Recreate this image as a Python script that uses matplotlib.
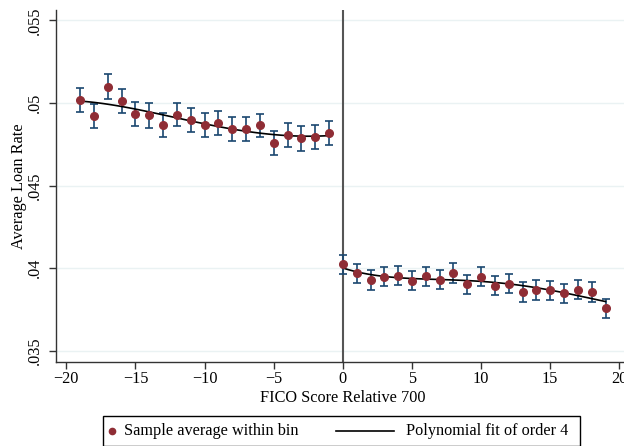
import numpy as np
import matplotlib
matplotlib.use("Agg")
import matplotlib.pyplot as plt
from matplotlib.patches import Rectangle
from matplotlib.lines import Line2D

plt.rcParams['font.family'] = ['Liberation Serif', 'DejaVu Serif']

# bins left and right of the 700 cutoff
x_left = [-19, -18, -17, -16, -15, -14, -13, -12, -11, -10, -9, -8, -7, -6, -5, -4, -3, -2, -1]
y_left = [0.05017, 0.04922, 0.05099, 0.05012, 0.04934, 0.04924, 0.04867, 0.04930, 0.04896, 0.04867,
          0.04879, 0.04843, 0.04840, 0.04864, 0.04757, 0.04805, 0.04785, 0.04793, 0.04817]
err_left = [0.00072, 0.00072, 0.00078, 0.00072, 0.00074, 0.00073, 0.00074, 0.00072, 0.00072, 0.00073,
            0.00072, 0.00072, 0.00072, 0.00072, 0.00074, 0.00072, 0.00073, 0.00072, 0.00072]

x_right = [0, 1, 2, 3, 4, 5, 6, 7, 8, 9, 10, 11, 12, 13, 14, 15, 16, 17, 18, 19]
y_right = [0.04024, 0.03969, 0.03929, 0.03949, 0.03955, 0.03925, 0.03951, 0.03931, 0.03971, 0.03903,
           0.03949, 0.03895, 0.03907, 0.03856, 0.03869, 0.03867, 0.03849, 0.03870, 0.03856, 0.03758]
err_right = [0.00058, 0.00058, 0.00058, 0.00058, 0.00058, 0.00058, 0.00058, 0.00058, 0.00060, 0.00058,
             0.00058, 0.00058, 0.00058, 0.00058, 0.00058, 0.00058, 0.00058, 0.00058, 0.00058, 0.00058]

yticks = [0.035, 0.04, 0.045, 0.05, 0.055]
ytick_labels = ['.035', '.04', '.045', '.05', '.055']
xticks = [-20, -15, -10, -5, 0, 5, 10, 15, 20]
legend_labels = ['Sample average within bin', 'Polynomial fit of order 4']

red = '#8f2d35'
navy = '#1a476f'
fs = 11.7
W, H = 624, 446

fig = plt.figure(figsize=(W / 100, H / 100), dpi=100)
ax = fig.add_axes([55.7 / W, 1 - 361.7 / H, (630 - 55.7) / W, (361.7 - 10) / H])

for y in yticks:
    ax.axhline(y, color='#eaf2f3', lw=1, zorder=0)

# 4th order polynomial fits on each side
for xs, ys in [(x_left, y_left), (x_right, y_right)]:
    c = np.polyfit(xs, ys, 4)
    xx = np.linspace(min(xs), max(xs), 100)
    ax.plot(xx, np.polyval(c, xx), color='black', lw=1.2, zorder=3)

for xs, ys, es in [(x_left, y_left, err_left), (x_right, y_right, err_right)]:
    ax.errorbar(xs, ys, yerr=es, fmt='none', ecolor=navy, elinewidth=1.2, capsize=3, capthick=1.2, zorder=2)
    ax.plot(xs, ys, 'o', color=red, markersize=5.5, zorder=4)

ax.axvline(0, color='#555555', lw=1.5, zorder=1)

ax.set_xlim(-20.77, 20.77)
ax.set_ylim(0.03435, 0.05562)
ax.set_xticks(xticks)
ax.set_yticks(yticks)
ax.set_yticklabels(ytick_labels, rotation=90, va='center')
ax.tick_params(labelsize=fs, length=5, width=1, colors='#333333', labelcolor='black')
ax.tick_params(axis='y', pad=4)
ax.tick_params(axis='x', pad=2)
ax.spines['top'].set_visible(False)
ax.spines['right'].set_visible(False)
for s in ['left', 'bottom']:
    ax.spines[s].set_color('#333333')
    ax.spines[s].set_linewidth(1)

ax.set_xlabel('FICO Score Relative 700', fontsize=fs, labelpad=2)
ax.set_ylabel('Average Loan Rate', fontsize=fs, labelpad=0.5)

# legend box drawn by hand (Stata style: short marker key, long line key)
def fx(px):
    return px / W

def fy(py):
    return 1 - py / H

ly = 431
fig.patches.append(Rectangle((fx(102.7), fy(445.5)), fx(580) - fx(102.7), fy(416) - fy(445.5),
                             transform=fig.transFigure, fill=False, edgecolor='black', lw=1))
fig.lines.append(Line2D([fx(112)], [fy(ly)], marker='o', color=red, markersize=4.5,
                        transform=fig.transFigure))
fig.text(fx(124), fy(ly), legend_labels[0], fontsize=fs, va='center', ha='left')
fig.lines.append(Line2D([fx(336), fx(394)], [fy(ly), fy(ly)], color='black', lw=1.2,
                        transform=fig.transFigure))
fig.text(fx(406), fy(ly), legend_labels[1], fontsize=fs, va='center', ha='left')

fig.savefig('out.png', dpi=100)
